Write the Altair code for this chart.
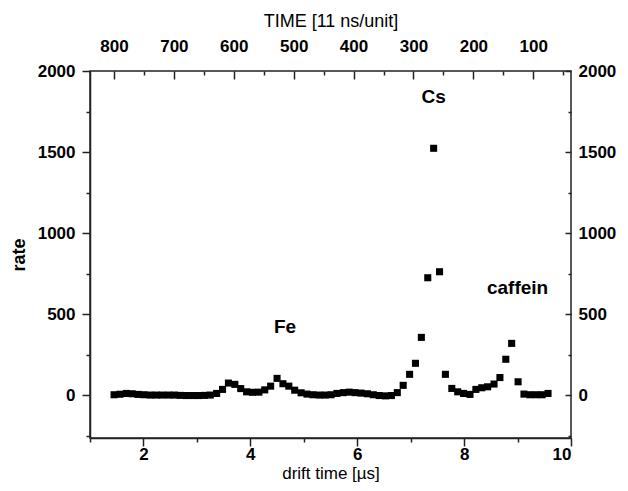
import altair as alt
import pandas as pd

# ---- data ----
drift_time = [1.45, 1.56, 1.68, 1.79, 1.90, 2.01, 2.13, 2.24, 2.35, 2.47,
              2.58, 2.69, 2.80, 2.92, 3.03, 3.14, 3.25, 3.37, 3.48, 3.59,
              3.71, 3.82, 3.93, 4.04, 4.16, 4.27, 4.38, 4.50, 4.61, 4.72,
              4.83, 4.95, 5.06, 5.17, 5.29, 5.40, 5.51, 5.62, 5.74, 5.85,
              5.96, 6.07, 6.19, 6.30, 6.41, 6.53, 6.64, 6.75, 6.86, 6.98,
              7.09, 7.20, 7.32, 7.43, 7.54, 7.65, 7.77, 7.88, 7.99, 8.11,
              8.22, 8.33, 8.44, 8.56, 8.67, 8.78, 8.89, 9.01, 9.12, 9.23,
              9.35, 9.46, 9.57]
rate = [2, 5, 10, 8, 4, 2, 0, 0, 0, 0,
        0, -2, -3, -3, -3, -2, 0, 10, 35, 74,
        66, 40, 20, 17, 18, 32, 55, 103, 70, 55,
        30, 14, 6, 2, 0, 0, 2, 10, 15, 18,
        15, 12, 8, 2, -3, -5, -3, 15, 60, 128,
        196, 356, 724, 1523, 761, 128, 41, 20, 10, 4,
        35, 45, 51, 68, 108, 221, 319, 82, 6, 2,
        2, 2, 10]

label_text = ["Cs", "Fe", "caffein"]
label_t = [7.43, 4.65, 9.0]
label_rate = [1840, 420, 660]

x_major = [2, 4, 6, 8, 10]
x_minor = [1, 3, 5, 7, 9]
y_major = [0, 500, 1000, 1500, 2000]
y_minor = [-250, 250, 750, 1250, 1750]
top_major = [800, 700, 600, 500, 400, 300, 200, 100]
top_minor = [750, 650, 550, 450, 350, 250, 150, 50]

# ---- chart ----
W, H = 481, 367
FONT = "Liberation Sans"
AX = "#222222"

df = pd.DataFrame({"t": drift_time, "rate": rate})
lab_df = pd.DataFrame({"label": label_text, "t": label_t, "rate": label_rate})
top_df = pd.DataFrame({"T": top_major})

xs = alt.Scale(domain=[1, 10], nice=False, zero=False)
ys = alt.Scale(domain=[-265, 2000], nice=False, zero=False)
ts = alt.Scale(domain=[840, 37], nice=False, zero=False)

lab_common = dict(labelFont=FONT, labelFontSize=17, labelFontWeight="bold",
                  labelColor="black", tickColor=AX, domainColor=AX,
                  grid=False)

points = alt.Chart(df).mark_square(size=50, color="black", opacity=1).encode(
    x=alt.X("t:Q", scale=xs, axis=alt.Axis(
        values=x_major, orient="bottom", tickSize=8, tickWidth=1.5,
        domainWidth=1.5, labelPadding=0, title="drift time [µs]",
        titleFont=FONT, titleFontSize=17, titleFontWeight="normal",
        titleColor="black", titlePadding=3, **lab_common)),
    y=alt.Y("rate:Q", scale=ys, axis=alt.Axis(
        values=y_major, format="d", orient="left", tickSize=8, tickWidth=1.5,
        domainWidth=1.5, labelPadding=7, title="rate",
        titleFont=FONT, titleFontSize=18, titleFontWeight="bold",
        titleColor="black", titlePadding=9, **lab_common)),
)

minor_lb = alt.Chart(df).mark_point(opacity=0).encode(
    x=alt.X("t:Q", scale=xs, axis=alt.Axis(
        values=x_minor, orient="bottom", tickSize=4, tickWidth=1.5,
        labels=False, domain=False, title="", tickColor=AX, grid=False)),
    y=alt.Y("rate:Q", scale=ys, axis=alt.Axis(
        values=y_minor, orient="left", tickSize=4, tickWidth=1.5,
        labels=False, domain=False, title="", tickColor=AX, grid=False)),
)

right_major = alt.Chart(df).mark_point(opacity=0).encode(
    x=alt.X("t:Q", scale=xs, axis=None),
    y=alt.Y("rate:Q", scale=ys, axis=alt.Axis(
        values=y_major, format="d", orient="right", offset=-6, tickSize=6,
        tickWidth=1.5, domain=False, labelPadding=7, title="", **lab_common)),
)

right_minor = alt.Chart(df).mark_point(opacity=0).encode(
    x=alt.X("t:Q", scale=xs, axis=None),
    y=alt.Y("rate:Q", scale=ys, axis=alt.Axis(
        values=y_minor, orient="right", offset=-3, tickSize=3, tickWidth=1.5,
        domain=False, labels=False, title="", tickColor=AX, grid=False)),
)

top_major_layer = alt.Chart(top_df).mark_point(opacity=0).encode(
    x=alt.X("T:Q", scale=ts, axis=alt.Axis(
        values=top_major, orient="top", offset=-8, tickSize=8, tickWidth=1.5,
        domain=False, labelPadding=16, title="TIME [11 ns/unit]",
        titleFont=FONT, titleFontSize=18, titleFontWeight="normal",
        titleColor="black", titlePadding=7, **lab_common)),
)

top_minor_layer = alt.Chart(top_df).mark_point(opacity=0).encode(
    x=alt.X("T:Q", scale=ts, axis=alt.Axis(
        values=top_minor, orient="top", offset=-4, tickSize=4, tickWidth=1.5,
        domain=False, labels=False, title="", tickColor=AX, grid=False)),
)

labels = alt.Chart(lab_df).mark_text(
    font=FONT, fontSize=19, fontWeight="bold", color="black",
    align="center", baseline="middle"
).encode(
    x=alt.X("t:Q", scale=xs, axis=None),
    y=alt.Y("rate:Q", scale=ys, axis=None),
    text="label:N",
)

chart = alt.layer(
    points, minor_lb, right_major, right_minor,
    top_major_layer, top_minor_layer, labels
).resolve_scale(
    x="independent", y="independent"
).properties(
    width=W, height=H,
    autosize=alt.AutoSizeParams(type="none"),
    padding={"left": 90, "top": 71, "right": 57, "bottom": 53},
    background="white",
).configure_view(
    stroke=AX, strokeWidth=1.5
)

chart.save("out.html", embed_options={"renderer": "svg", "actions": False})
